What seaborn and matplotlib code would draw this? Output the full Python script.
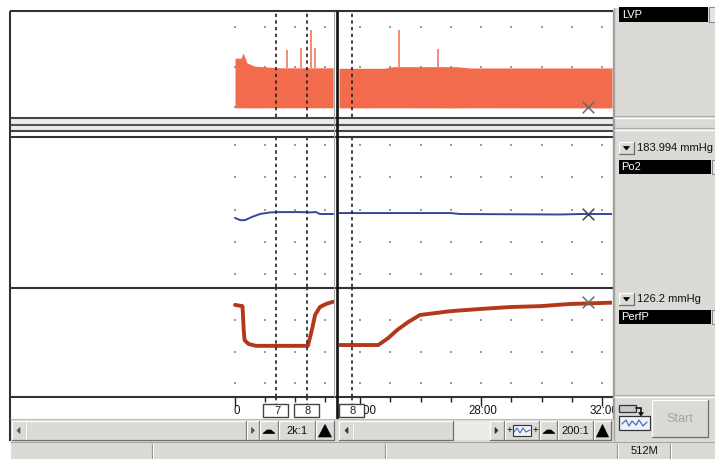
import numpy as np
import matplotlib
matplotlib.use("Agg")
import matplotlib.pyplot as plt
import seaborn as sns
from matplotlib.patches import Rectangle, Polygon

sns.set_theme(style="white")
plt.rcParams['font.family'] = ['Liberation Sans', 'DejaVu Sans']

# ---------------- data (time in minutes) ----------------
channels = ["LVP", "Po2", "PerfP"]
readouts = ["", "183.994 mmHg", "126.2 mmHg"]

# LVP envelope (mmHg) - left pane (2k:1) and right pane (200:1)
lvp_l_t = [0.0, 2.0, 2.7, 3.3, 4.0, 6.7, 10.7, 15.0, 32.7]
lvp_l_top = [61, 61, 67.5, 62, 55, 51, 50, 49, 49]
lvp_l_bot = [-1.0, -1.0, -1.2, -1.0, -1.0, -1.2, -1.0, -1.0, -1.0]
spk_l_t = [17.3, 22.0, 25.3, 26.7]
spk_l_peak = [71, 74, 96, 74]

lvp_r_t = [23.3, 24.8, 25.1, 27.2, 27.6, 32.33]
lvp_r_top = [48.4, 48.4, 50.4, 50.4, 48.8, 48.8]
lvp_r_bot = [-1.2, -1.0, -1.0, -1.2, -1.0, -1.2]
spk_r_t = [25.29, 26.58]
spk_r_peak = [96, 72.5]

# Po2 (mmHg)
po2_l_t = [0, 1.7, 3.3, 5.7, 8.3, 11.7, 15, 21.7, 25, 27, 28.3, 32.7]
po2_l_v = [174, 167, 167, 177, 186, 191, 192, 192, 191, 192, 186, 186]
po2_r_t = [23.3, 25.3, 27.0, 27.3, 30.6, 31.3, 32.33]
po2_r_v = [189, 189, 189, 186, 184.5, 186, 186]

# Perfusion pressure (mmHg)
perf_l_t = [0, 2.5, 2.9, 3.2, 4.5, 7, 24.3, 25.6, 26.7, 28.3, 30.3, 32.7]
perf_l_v = [124, 122, 84, 68, 62, 59, 59, 84, 108, 120.6, 125.4, 129]
perf_r_t = [23.31, 24.60, 24.93, 25.22, 25.59, 25.98, 26.48, 26.98, 27.97,
            28.96, 29.95, 30.94, 32.30]
perf_r_v = [60.3, 60.3, 71.4, 84, 96.8, 108, 111, 114, 117.5, 120.6, 122,
            125.4, 127.5]

# event markers
mk_l_t = [13.7, 24.0]
mk_l_lab = ["7", "8"]
mk_r_t = [23.73]
mk_r_lab = ["8"]

# time axis ticks
left_ticks = [0, 10, 20, 30]
left_major = [0]
left_major_lab = ["0"]
right_ticks = [24, 25, 26, 27, 28, 29, 30, 31, 32]
right_major = [24, 28, 32]
right_major_lab = ["24:00", "28:00", "32:00"]

# grid levels per channel
grid_levels = [[0, 50, 100], [0, 100, 200, 300, 400], [0, 50, 100]]

# cursor (X) position
cursor_t = 31.54
cursor_v = [0, 186, 128.6]

compression = ["2k:1", "200:1"]
memory = "512M"

# ---------------- styles ----------------
ORANGE = "#f26b4c"
BLUE = "#37479a"
RED = "#b3381b"
GRAY = "#dcdad6"
W, H = 715, 459

fig = plt.figure(figsize=(W / 100, H / 100), dpi=100)
fig.patch.set_facecolor("white")


def pax(x0, y0, x1, y1, z=1):
    ax = fig.add_axes([x0 / W, 1 - y1 / H, (x1 - x0) / W, (y1 - y0) / H], zorder=z)
    ax.set_axis_off()
    return ax


pane_x = {"L": (11, 334), "R": (339, 612)}
pane_xlim = {"L": (-74.67, 33.0), "R": (23.3, 32.33)}
row_y = [(11, 117), (137, 287), (288, 397)]
row_ylim = [(-12.5, 120), (-40.3, 424.8), (-22.2, 150.8)]

data = {
    "L": dict(lvp=(lvp_l_t, lvp_l_top, lvp_l_bot, spk_l_t, spk_l_peak),
              po2=(po2_l_t, po2_l_v), perf=(perf_l_t, perf_l_v),
              grid=left_ticks, mk=(mk_l_t, mk_l_lab),
              ticks=left_ticks, major=(left_major, left_major_lab)),
    "R": dict(lvp=(lvp_r_t, lvp_r_top, lvp_r_bot, spk_r_t, spk_r_peak),
              po2=(po2_r_t, po2_r_v), perf=(perf_r_t, perf_r_v),
              grid=right_ticks, mk=(mk_r_t, mk_r_lab),
              ticks=right_ticks, major=(right_major, right_major_lab)),
}

time_axes = {}
for p in ["L", "R"]:
    d = data[p]
    x0, x1 = pane_x[p]
    for r in range(3):
        y0, y1 = row_y[r]
        ax = pax(x0, y0, x1, y1)
        ax.set_xlim(*pane_xlim[p])
        ax.set_ylim(*row_ylim[r])
        gx, gy = np.meshgrid(d["grid"], grid_levels[r])
        ax.scatter(gx.ravel(), gy.ravel(), s=1.8, marker="s", color="#9a9a9a",
                   linewidths=0, zorder=1)
        if r == 0:
            t, top, bot, st, sp = d["lvp"]
            ax.fill_between(t, bot, top, color=ORANGE, lw=0, zorder=3)
            base = np.interp(st, t, top)
            ax.vlines(st, base, sp, color=ORANGE, lw=1.1, zorder=3)
        elif r == 1:
            t, v = d["po2"]
            sns.lineplot(x=t, y=v, ax=ax, color=BLUE, lw=1.4, estimator=None,
                         sort=False, zorder=3)
        else:
            t, v = d["perf"]
            sns.lineplot(x=t, y=v, ax=ax, color=RED, lw=2.8, estimator=None,
                         sort=False, zorder=3)
        ax.set_axis_off()
        for mt in d["mk"][0]:
            ax.axvline(mt, color="#222222", lw=1.2, ls=(0, (2, 2)), zorder=4)
        if p == "R":
            ax.scatter([cursor_t], [cursor_v[r]], marker="x", s=70,
                       color="#6a6a6a" if r != 1 else "#444444", lw=1.1, zorder=5)
    # time row
    ta = pax(x0, 397, x1, 418)
    ta.set_xlim(*pane_xlim[p])
    ta.set_ylim(21, 0)
    major, labs = d["major"]
    minor = [t for t in d["ticks"] if t not in major]
    ta.vlines(minor, 0, 4.5, color="#222", lw=1.0)
    ta.vlines(major, 0, 9, color="#222", lw=1.0)
    for t, s in zip(major, labs):
        ta.annotate(s, (t, 14), xytext=(1.5, 0), textcoords="offset points",
                    ha="center", va="center", fontsize=8.3, color="#111",
                    annotation_clip=False)
    for mt in d["mk"][0]:
        ta.vlines(mt, 0, 7, color="#222222", lw=1.2, linestyles=[(0, (2, 2))])
    time_axes[p] = ta

# ---------------- chrome overlay ----------------
ov = fig.add_axes([0, 0, 1, 1], zorder=10)
ov.set_xlim(0, W)
ov.set_ylim(H, 0)
ov.set_axis_off()
ov.patch.set_alpha(0)


def rect(x0, y0, x1, y1, fc, ec="none", lw=0.8):
    ov.add_patch(Rectangle((x0, y0), x1 - x0, y1 - y0, fc=fc, ec=ec, lw=lw))


def raised(x0, y0, x1, y1, fc=GRAY):
    rect(x0, y0, x1, y1, fc)
    ov.plot([x0, x0, x1], [y1, y0, y0], color="white", lw=0.9)
    ov.plot([x0, x1, x1], [y1, y1, y0], color="#6e6e6e", lw=0.9)


def tri(pts, color="black"):
    ov.add_patch(Polygon(pts, closed=True, fc=color, ec=color, lw=0.5))


def hline(y, x0, x1, color="#333", lw=1.4):
    ov.plot([x0, x1], [y, y], color=color, lw=lw, solid_capstyle="butt")


def vline(x, y0, y1, color="#333", lw=1.4):
    ov.plot([x, x], [y0, y1], color=color, lw=lw, solid_capstyle="butt")


# separator between LVP and Po2
rect(10, 119, 613, 131, "#ececec")
for y, c in [(118, "#444"), (125, "#555"), (131, "#444"), (137, "#333")]:
    hline(y, 10, 613, c, 1.5)
hline(11, 10, 613, "#333", 1.5)
hline(288, 10, 613, "#333", 1.5)
hline(397, 10, 613, "#333", 1.5)
vline(10, 11, 441, "#333", 1.5)
vline(334, 11, 397, "#a8a8a8", 0.8)
vline(337, 11, 419, "#111", 1.9)
vline(612.5, 11, 419, "#9a9a9a", 1.0)

# marker boxes in the time row
for p in ["L", "R"]:
    ta = time_axes[p]
    for mt, lab in zip(*data[p]["mk"]):
        px = ta.transData.transform((mt, 0))[0]
        rect(px - 13, 404, px + 12, 416.5, "white", "#444", 1.0)
        ov.text(px + 1, 410.5, lab, ha="center", va="center", fontsize=8, color="#222")

# scroll row
rect(10.7, 418.5, 613, 440, GRAY)
hline(419, 10, 613, "#bdbbb7", 0.8)
raised(12, 421, 26, 440)
tri([(20, 427.5), (20, 433.5), (17, 430.5)], "#555")
raised(26, 421, 246, 440)
raised(247, 421, 259, 440)
tri([(251.5, 427.5), (251.5, 433.5), (254.5, 430.5)], "#555")
raised(260, 421, 278, 440)
tri([(263, 433.5), (267, 430), (271, 430), (275, 433.5)])
raised(279, 421, 315, 440)
ov.text(297, 431, compression[0], ha="center", va="center", fontsize=8, color="#111")
raised(316, 421, 334, 440)
tri([(318.5, 437), (325, 424.5), (331.5, 437)])

raised(339, 421, 353, 440)
tri([(348, 427.5), (348, 433.5), (345, 430.5)], "#333")
raised(353, 421, 453, 440)
rect(453, 421, 490, 440, "#ecebe8")
raised(490, 421, 504, 440)
tri([(495, 427.5), (495, 433.5), (498, 430.5)], "#333")
raised(505, 421, 539, 440)
ov.text(509, 430.5, "+", ha="center", va="center", fontsize=7, color="#111")
ov.text(535, 430.5, "+", ha="center", va="center", fontsize=7, color="#111")
rect(513, 425, 531, 436, "#eef2fa", "#333", 0.8)
ov.plot([514, 517, 520, 523, 526, 530], [432, 428, 433, 428, 432, 430], color="#4a6ab8", lw=0.8)
raised(540, 421, 557, 440)
tri([(543, 433.5), (547, 430), (551, 430), (555, 433.5)])
raised(558, 421, 593, 440)
ov.text(575.5, 431, compression[1], ha="center", va="center", fontsize=8, color="#111")
raised(594, 421, 611, 440)
tri([(596.5, 437), (602.5, 424.5), (608.5, 437)])

# status bar
rect(10.7, 440, W, H, GRAY)
hline(441.5, 10, W, "#a8a6a2", 0.8)
for x in [152, 385, 617, 670]:
    vline(x, 443, H, "#9a9894", 0.9)
    vline(x + 1.2, 443, H, "white", 0.7)
ov.text(644, 451.5, memory, ha="center", va="center", fontsize=8, color="#111")

# side bar
rect(613, 8, W, 440.5, GRAY)
vline(614, 8, 441, "#a6a4a0", 1.0)
for y, c in [(116, "#b0aeaa"), (118, "white"), (127.5, "#b0aeaa"), (129.5, "white"),
             (395, "#b0aeaa"), (397, "white")]:
    hline(y, 614, W, c, 0.9)

rect(619, 7, 708, 22, "black")
ov.text(622, 15, channels[0], ha="left", va="center", fontsize=8, color="white")
rect(708.5, 7, W, 22, "#e4e4e4", "#777", 0.6)

for (by, bx), name, ro in zip([(142, 160), (293, 310)], channels[1:], readouts[1:]):
    raised(619, by, 634, by + 12)
    tri([(623.5, by + 4.5), (629.5, by + 4.5), (626.5, by + 8)])
    ov.text(637, by + 6, ro, ha="left", va="center", fontsize=8, color="#111")
    rect(619, bx, 711, bx + 13.5, "black")
    ov.text(621, bx + 7, name, ha="left", va="center", fontsize=8, color="white")
    rect(711.5, bx, W, bx + 13.5, "#e4e4e4", "#777", 0.6)

# bottom of side bar: device icon + Start button
rect(619, 405, 636, 411.5, "#c8c8c8", "#333", 0.9)
ov.plot([636, 641, 641], [408, 408, 414], color="#111", lw=1.2)
tri([(638.5, 412.5), (643.5, 412.5), (641, 416)], "#111")
rect(619, 416, 650, 430, "#eef2fa", "#333", 0.9)
ov.plot([622, 626, 629, 632, 636, 639, 643, 647], [424, 420, 426, 421, 425, 420, 426, 422],
        color="#4a6ab8", lw=0.9)
raised(652, 400, 708, 437)
ov.text(680, 419, "Start", ha="center", va="center", fontsize=9, color="#a4a4a4")

fig.savefig("out.png", dpi=100, facecolor="white")
